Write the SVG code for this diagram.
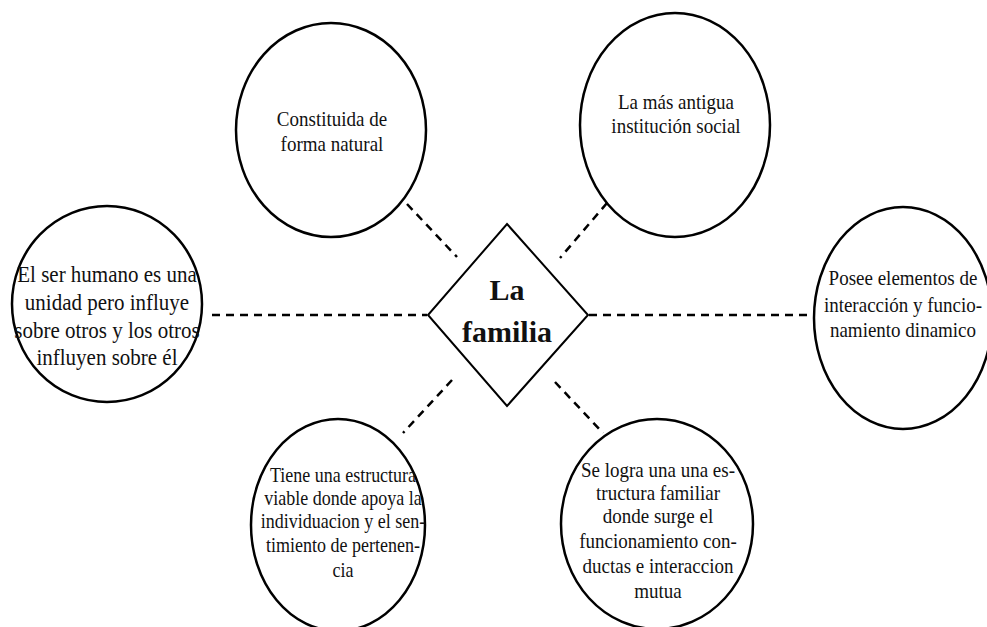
<svg xmlns="http://www.w3.org/2000/svg" width="987" height="627" viewBox="0 0 987 627">
<style>
.n{fill:#fff;stroke:#000;stroke-width:2.5}
.d{fill:#fff;stroke:#000;stroke-width:2}
.c{stroke:#000;stroke-width:2.5;stroke-dasharray:8 6;fill:none}
text{font-family:"Liberation Serif","Times New Roman",serif;fill:#111;text-anchor:middle}
.t{font-size:19px}
.b{font-size:30px;font-weight:bold}
</style>
<rect width="987" height="627" fill="#fff"/>
<g id="connectors">
<line class="c" x1="407" y1="204" x2="457" y2="257"/>
<line class="c" x1="607" y1="203" x2="560" y2="258"/>
<line class="c" x1="212" y1="315" x2="427" y2="315"/>
<line class="c" x1="589" y1="315" x2="808" y2="315"/>
<line class="c" x1="452" y1="380" x2="403" y2="433"/>
<line class="c" x1="555" y1="382" x2="603" y2="433"/>
</g>
<g id="center">
<polygon class="d" points="507,224 588,315 507,406 428,315"/>
<text class="b" x="507" y="300">La</text>
<text class="b" x="507" y="342">familia</text>
</g>
<g id="n1">
<ellipse class="n" cx="331" cy="130" rx="95" ry="107"/>
<text class="t" x="332" y="126" transform="matrix(1 0 0 1.13 0 -16.38)">Constituida de</text>
<text class="t" x="332" y="151" transform="matrix(1 0 0 1.13 0 -19.63)">forma natural</text>
</g>
<g id="n2">
<ellipse class="n" cx="675" cy="125" rx="95" ry="112"/>
<text class="t" x="676" y="109" transform="matrix(1 0 0 1.13 0 -14.17)">La más antigua</text>
<text class="t" x="676" y="133" transform="matrix(1 0 0 1.13 0 -17.29)">institución social</text>
</g>
<g id="n3">
<ellipse class="n" cx="107" cy="304" rx="95" ry="98"/>
<text class="t" x="107" y="282" style="font-size:21px" transform="matrix(1 0 0 1.13 0 -36.66)">El ser humano es una</text>
<text class="t" x="107" y="310" style="font-size:21px" transform="matrix(1 0 0 1.13 0 -40.3)">unidad pero influye</text>
<text class="t" x="107" y="338" style="font-size:21px" transform="matrix(1 0 0 1.13 0 -43.94)">sobre otros y los otros</text>
<text class="t" x="107" y="365" style="font-size:21px" transform="matrix(1 0 0 1.13 0 -47.45)">influyen sobre él</text>
</g>
<g id="n4">
<ellipse class="n" cx="903" cy="318" rx="89" ry="111"/>
<text class="t" x="903" y="285" transform="matrix(1 0 0 1.13 0 -37.05)">Posee elementos de</text>
<text class="t" x="903" y="312" transform="matrix(1 0 0 1.13 0 -40.56)">interacción y funcio-</text>
<text class="t" x="903" y="337" transform="matrix(1 0 0 1.13 0 -43.81)">namiento dinamico</text>
</g>
<g id="n5">
<ellipse class="n" cx="338" cy="525" rx="87" ry="106"/>
<text class="t" x="343" y="482" style="font-size:18px" transform="matrix(1 0 0 1.13 0 -62.66)">Tiene una estructura</text>
<text class="t" x="343" y="505" style="font-size:18px" transform="matrix(1 0 0 1.13 0 -65.65)">viable donde apoya la</text>
<text class="t" x="343" y="528" style="font-size:18px" transform="matrix(1 0 0 1.13 0 -68.64)">individuacion y el sen-</text>
<text class="t" x="343" y="552" style="font-size:18px" transform="matrix(1 0 0 1.13 0 -71.76)">timiento de pertenen-</text>
<text class="t" x="343" y="577" style="font-size:18px" transform="matrix(1 0 0 1.13 0 -75.01)">cia</text>
</g>
<g id="n6">
<ellipse class="n" cx="657" cy="524" rx="96" ry="105"/>
<text class="t" x="658" y="477" transform="matrix(1 0 0 1.13 0 -62.01)">Se logra una una es-</text>
<text class="t" x="658" y="500" transform="matrix(1 0 0 1.13 0 -65)">tructura familiar</text>
<text class="t" x="658" y="523" transform="matrix(1 0 0 1.13 0 -67.99)">donde surge el</text>
<text class="t" x="658" y="548" transform="matrix(1 0 0 1.13 0 -71.24)">funcionamiento con-</text>
<text class="t" x="658" y="573" transform="matrix(1 0 0 1.13 0 -74.49)">ductas e interaccion</text>
<text class="t" x="658" y="598" transform="matrix(1 0 0 1.13 0 -77.74)">mutua</text>
</g>
</svg>
